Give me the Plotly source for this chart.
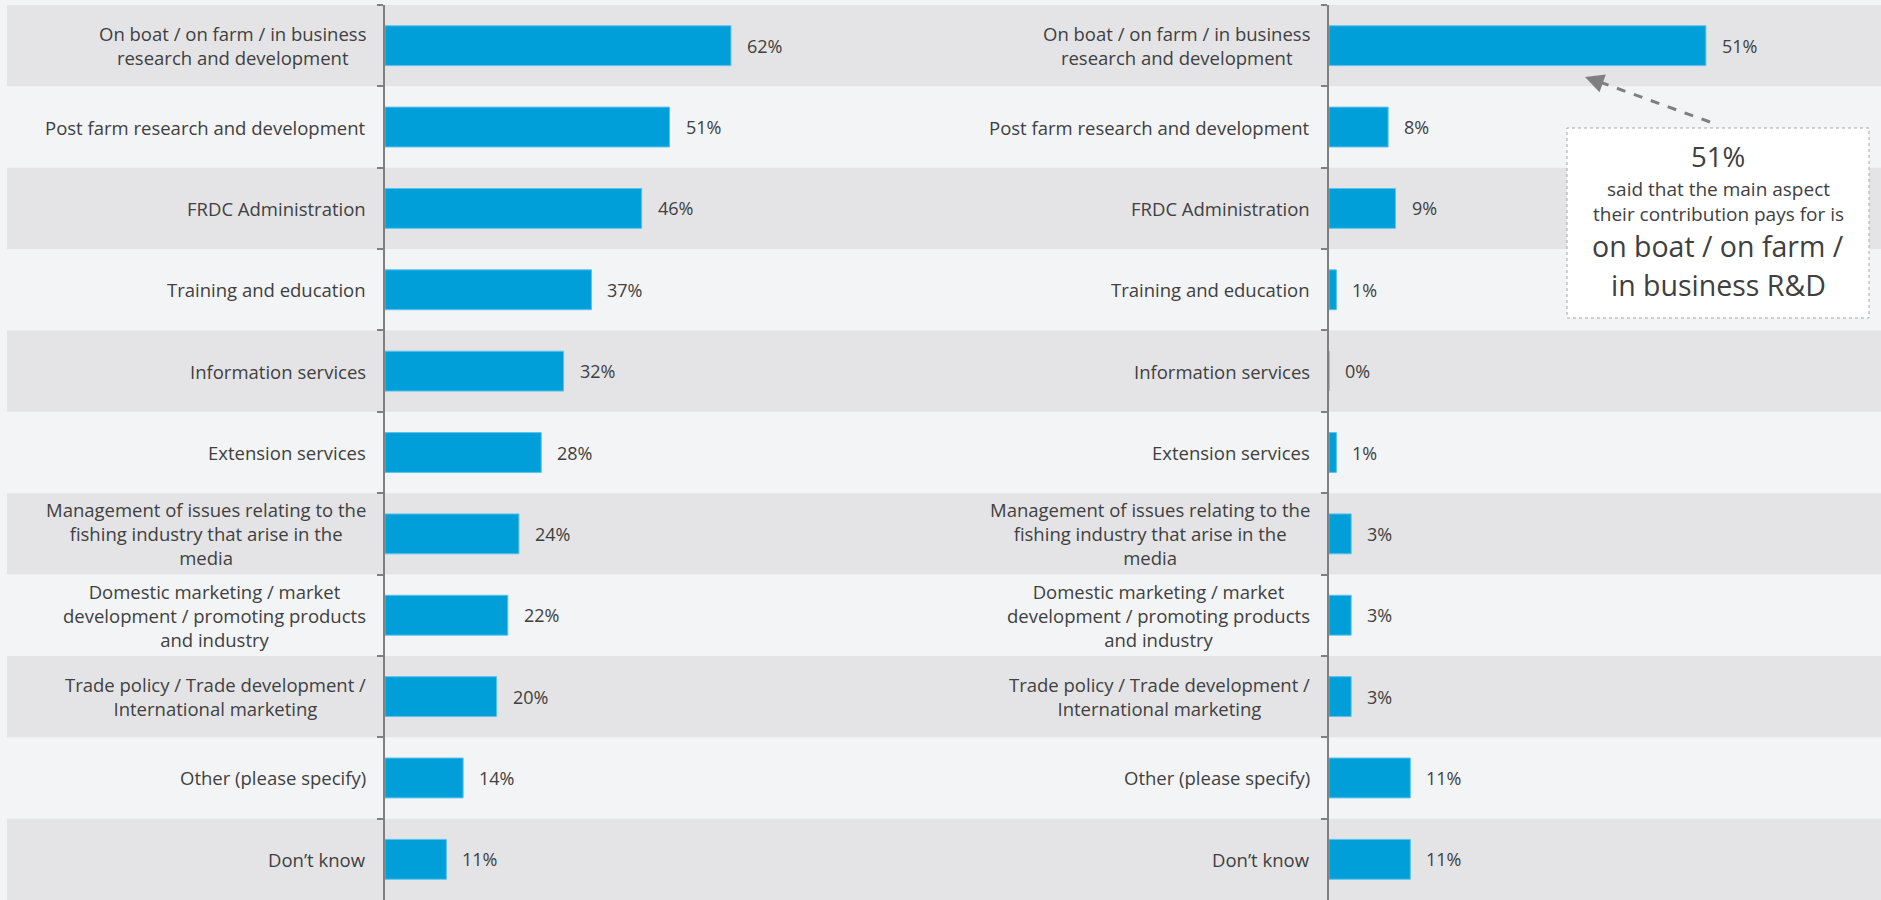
import plotly.graph_objects as go

# Survey categories (top to bottom) and the two response series (%)
categories = [
    "On boat / on farm / in business research and development",
    "Post farm research and development",
    "FRDC Administration",
    "Training and education",
    "Information services",
    "Extension services",
    "Management of issues relating to the fishing industry that arise in the media",
    "Domestic marketing / market development / promoting products and industry",
    "Trade policy / Trade development / International marketing",
    "Other (please specify)",
    "Don\u2019t know",
]
category_labels = [
    "On boat / on farm / in business<br>research and development",
    "Post farm research and development",
    "FRDC Administration",
    "Training and education",
    "Information services",
    "Extension services",
    "Management of issues relating to the<br>fishing industry that arise in the<br>media",
    "Domestic marketing / market<br>development / promoting products<br>and industry",
    "Trade policy / Trade development /<br>International marketing",
    "Other (please specify)",
    "Don\u2019t know",
]
all_aspects = [62, 51, 46, 37, 32, 28, 24, 22, 20, 14, 11]
main_aspect = [51, 8, 9, 1, 0, 1, 3, 3, 3, 11, 11]

# Callout text blocks: (text, font size, vertical centre in px from top)
callout_blocks = [
    ("51%", 27.5, 157),
    ("said that the main aspect<br>their contribution pays for is", 19, 201.5),
    ("on boat / on farm /", 28.5, 246),
    ("in business R&D", 28.5, 285),
]

W, H = 1881, 900
FONT = "Open Sans"
TEXT = "#404040"
BAR = "#009fda"
BAND_DARK = "#e4e4e6"
BAND_LIGHT = "#f3f4f6"
AXIS = "#808080"
LABEL_SIZE = 18.5

fig = go.Figure()

for vals, xa, ya in [(all_aspects, "x", "y"), (main_aspect, "x2", "y2")]:
    fig.add_trace(go.Bar(
        x=vals, y=categories, orientation="h", xaxis=xa, yaxis=ya,
        width=0.49, marker=dict(color=BAR, line=dict(color="#5bc2ec", width=1)),
        hoverinfo="skip", showlegend=False,
    ))

y_domain = [0, 1 - 5 / H]
yax = dict(
    type="category", categoryorder="array", categoryarray=categories,
    range=[len(categories) - 0.5, -0.5], domain=y_domain,
    showline=True, linecolor=AXIS, linewidth=2,
    ticks="outside", tickson="boundaries", ticklen=6, tickwidth=2, tickcolor=AXIS,
    showticklabels=False, showgrid=False, zeroline=False, fixedrange=True,
)
fig.update_layout(
    width=W, height=H, autosize=False,
    margin=dict(l=0, r=0, t=0, b=0),
    paper_bgcolor=BAND_LIGHT, plot_bgcolor="rgba(0,0,0,0)",
    font=dict(family=FONT, size=LABEL_SIZE, color=TEXT),
    xaxis=dict(domain=[385 / W, 900 / W], range=[0, 92.3], visible=False, fixedrange=True),
    xaxis2=dict(domain=[1329 / W, 1.0], range=[0, 74.7], visible=False, fixedrange=True),
    yaxis=dict(anchor="x", **yax),
    yaxis2=dict(anchor="x2", **yax),
    bargap=0.5,
)

# Alternating row bands across the full width
shapes = []
for i, cat in enumerate(categories):
    if i % 2 == 0:
        shapes.append(dict(
            type="rect", xref="paper", yref="y", x0=7 / W, x1=1,
            y0=i - 0.5, y1=i + 0.5, fillcolor=BAND_DARK, line=dict(width=0),
            layer="below",
        ))

# Callout box
box_x0, box_x1, box_top, box_bot = 1567, 1869, 128, 318
shapes.append(dict(
    type="rect", xref="paper", yref="paper",
    x0=box_x0 / W, x1=box_x1 / W, y0=1 - box_bot / H, y1=1 - box_top / H,
    fillcolor="white", line=dict(color="#a6a6a6", width=1, dash="dot"),
    layer="above",
))
# Dashed pointer from the callout to the top bar
shapes.append(dict(
    type="line", xref="paper", yref="paper",
    x0=1710 / W, y0=1 - 122 / H, x1=1597 / W, y1=1 - 81 / H,
    line=dict(color="#7f7f7f", width=3, dash="dash"), layer="above",
))

annotations = []
for vals, xa, ya in [(all_aspects, "x", "y"), (main_aspect, "x2", "y2")]:
    for cat, lab, v in zip(categories, category_labels, vals):
        annotations.append(dict(
            xref=xa, yref=ya, x=0, y=cat, text=lab, showarrow=False,
            xanchor="right", yanchor="middle", xshift=-17, align="center",
            font=dict(family=FONT, size=LABEL_SIZE, color=TEXT),
        ))
        annotations.append(dict(
            xref=xa, yref=ya, x=v, y=cat, text=f"{v}%", showarrow=False,
            xanchor="left", yanchor="middle", xshift=14,
            font=dict(family=FONT, size=18, color=TEXT),
        ))

# Arrowhead of the pointer
annotations.append(dict(
    xref="paper", yref="paper", x=1585 / W, y=1 - 77 / H, ax=14, ay=5,
    text="", showarrow=True, arrowhead=2, arrowsize=1.5, arrowwidth=2.5,
    arrowcolor="#7f7f7f",
))

cx = (box_x0 + box_x1) / 2 / W
for txt, size, yy in callout_blocks:
    annotations.append(dict(
        xref="paper", yref="paper", x=cx, y=1 - yy / H, text=txt,
        showarrow=False, xanchor="center", yanchor="middle", align="center",
        font=dict(family=FONT, size=size, color=TEXT),
    ))

fig.update_layout(shapes=shapes, annotations=annotations)
fig.write_html("out.html", config={"displayModeBar": False})
